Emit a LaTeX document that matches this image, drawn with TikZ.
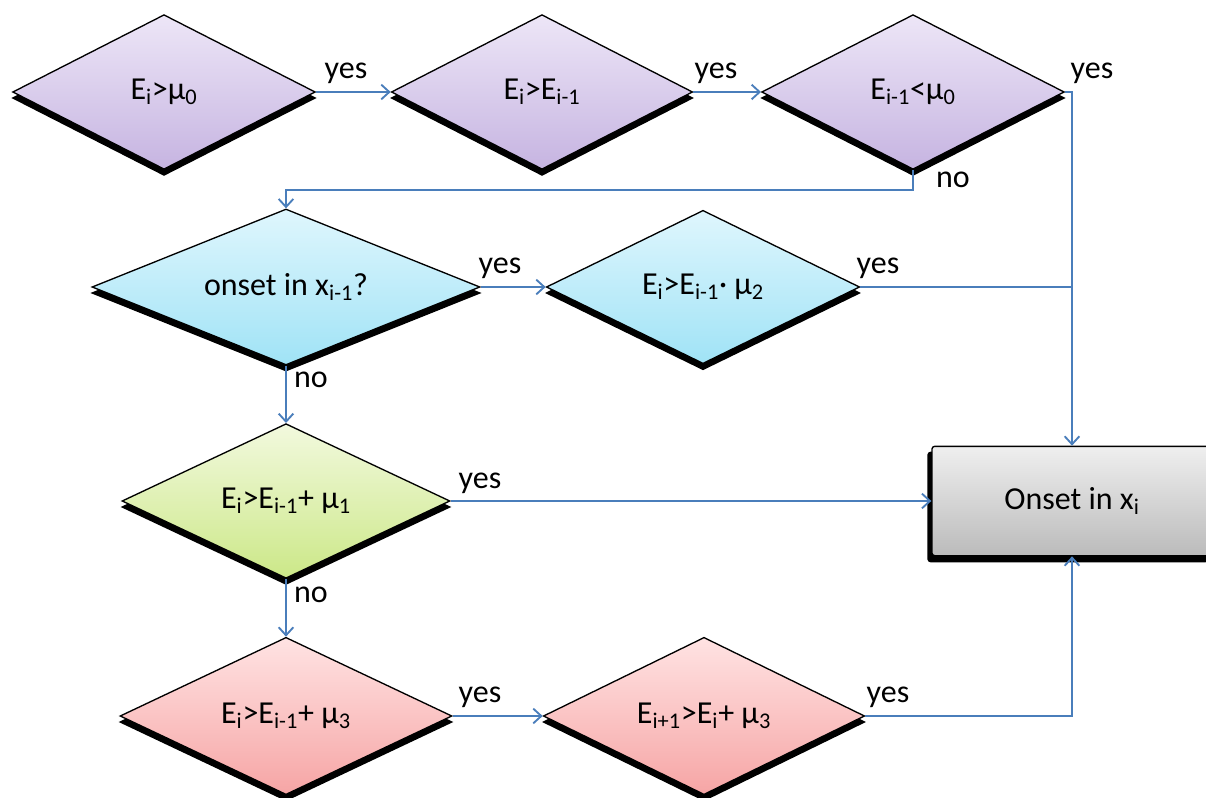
\documentclass[tikz,border=0pt]{standalone}
\usepackage{fontspec}
\setmainfont{Carlito}
\usetikzlibrary{shapes.geometric,arrows.meta,shadows}
\definecolor{connblue}{HTML}{4A7EBB}
\definecolor{purpT}{HTML}{EDE6F7}
\definecolor{purpB}{HTML}{C6B4E1}
\definecolor{cyanT}{HTML}{DFF6FD}
\definecolor{cyanB}{HTML}{A0E3F6}
\definecolor{grnT}{HTML}{F2F9DE}
\definecolor{grnB}{HTML}{CCE888}
\definecolor{redT}{HTML}{FFE3E3}
\definecolor{redB}{HTML}{F6A5A5}
\definecolor{grayT}{HTML}{EFEFEF}
\definecolor{grayB}{HTML}{BBBBBB}
\newcommand\sbs[1]{\textsubscript{#1}}
\begin{document}
\begin{tikzpicture}[x=0.75pt,y=-0.75pt,
  txt/.style={font=\fontsize{24}{28}\selectfont, text=black},
  dec/.style={diamond, aspect=3, inner sep=0pt, draw=black, line width=1pt,
    general shadow={fill=black, draw=black, line width=1pt, shadow yshift=-4.5pt}, txt},
  purp/.style={dec, top color=purpT, bottom color=purpB},
  cyn/.style={dec, top color=cyanT, bottom color=cyanB},
  grn/.style={dec, top color=grnT, bottom color=grnB},
  rd/.style={dec, top color=redT, bottom color=redB},
  endbox/.style={rectangle, rounded corners=2pt, draw=black, line width=1pt,
    top color=grayT, bottom color=grayB, minimum width=210pt, minimum height=82pt,
    general shadow={fill=black, draw=black, line width=1pt, shadow xshift=-3pt, shadow yshift=-4.5pt}, txt},
  lbl/.style={txt, inner sep=0pt},
  conn/.style={draw=connblue, line width=1.4pt},
  arr/.style={conn, -{Straight Barb[length=6pt,width=11pt]}}
]
\useasboundingbox[fill=white] (0,0) rectangle (1206,798);

% decision nodes
\node[purp, minimum width=227pt, minimum height=116pt] (d1) at (164,92) {E\sbs{i}>μ\sbs{0}};
\node[purp, minimum width=226pt, minimum height=116pt] (d2) at (542,92) {E\sbs{i}>E\sbs{i-1}};
\node[purp, minimum width=227pt, minimum height=116pt] (d3) at (913,92) {E\sbs{i-1}<μ\sbs{0}};
\node[cyn, minimum width=291pt, minimum height=117pt] (d4) at (286,287) {onset in x\sbs{i-1}?};
\node[cyn, minimum width=235pt, minimum height=115pt] (d5) at (703,287) {E\sbs{i}>E\sbs{i-1}· μ\sbs{2}};
\node[grn, minimum width=246pt, minimum height=116pt] (d6) at (286,501) {E\sbs{i}>E\sbs{i-1}+ μ\sbs{1}};
\node[rd, minimum width=249pt, minimum height=118pt] (d7) at (286,716) {E\sbs{i}>E\sbs{i-1}+ μ\sbs{3}};
\node[rd, minimum width=241pt, minimum height=118pt] (d8) at (704,716) {E\sbs{i+1}>E\sbs{i}+ μ\sbs{3}};
\node[endbox] (res) at (1072,501) {Onset in x\sbs{i}};

% helper coordinates
\coordinate (c3y) at (1072,92);
\coordinate (c3a) at (913,190);
\coordinate (c3b) at (286,190);
\coordinate (c5y) at (1072,287);
\coordinate (c8y) at (1072,716);

% connectors
\draw[arr] (d1.east) -- (d2.west);
\draw[arr] (d2.east) -- (d3.west);
\draw[arr] (d3.east) -- (c3y) -- (res.north);
\draw[arr] (d3.south) -- (c3a) -- (c3b) -- (d4.north);
\draw[arr] (d4.east) -- (d5.west);
\draw[conn] (d5.east) -- (c5y);
\draw[arr] (d4.south) -- (d6.north);
\draw[arr] (d6.east) -- (res.west);
\draw[arr] (d6.south) -- (d7.north);
\draw[arr] (d7.east) -- (d8.west);
\draw[arr] (d8.east) -- (c8y) -- (res.south);

% labels
\node[lbl] (l1) at (346,73) {yes};
\node[lbl] (l2) at (716,73) {yes};
\node[lbl] (l3) at (1092,73) {yes};
\node[lbl] (l3n) at (953,180) {no};
\node[lbl] (l4) at (500,268) {yes};
\node[lbl] (l4n) at (311,380) {no};
\node[lbl] (l5) at (878,268) {yes};
\node[lbl] (l6) at (480,483) {yes};
\node[lbl] (l6n) at (311,595) {no};
\node[lbl] (l7) at (480,697) {yes};
\node[lbl] (l8) at (888,697) {yes};
\end{tikzpicture}
\end{document}
